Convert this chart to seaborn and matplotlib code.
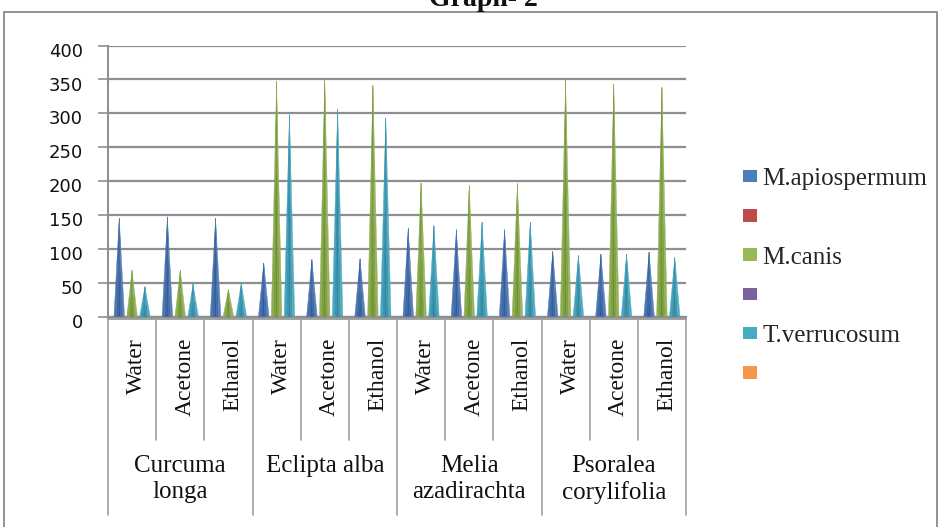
import numpy as np
import pandas as pd
import matplotlib
matplotlib.use("Agg")
import matplotlib.pyplot as plt
import matplotlib.transforms as mtransforms
from matplotlib.patches import Polygon, Rectangle
from matplotlib.lines import Line2D
from matplotlib.colors import to_rgb
import seaborn as sns

# ---- data -------------------------------------------------------------
plants = ["Curcuma\nlonga", "Eclipta alba", "Melia\nazadirachta", "Psoralea\ncorylifolia"]
solvents = ["Water", "Acetone", "Ethanol"]

m_apiospermum = [145, 147, 145, 79, 84, 85, 130, 128, 128, 96, 92, 95]
m_canis = [68, 68, 40, 347, 351, 341, 197, 193, 196, 349, 343, 338]
t_verrucosum = [44, 48, 49, 298, 306, 293, 134, 139, 139, 90, 92, 87]

series_names = ["M.apiospermum", "M.canis", "T.verrucosum"]
series_colors = ["#3F6EB0", "#86AA44", "#3AA0BC"]

legend_labels = ["M.apiospermum", " ", "M.canis", " ", "T.verrucosum", " "]
legend_colors = ["#4A7EBB", "#BE4B48", "#98B954", "#7D60A0", "#46AAC5", "#F79646"]

y_ticks = [0, 50, 100, 150, 200, 250, 300, 350, 400]

# ---- table ------------------------------------------------------------
slots = [f"{p}|{s}" for p in plants for s in solvents]
rows = []
for name, vals in zip(series_names, [m_apiospermum, m_canis, t_verrucosum]):
    for slot, v in zip(slots, vals):
        rows.append({"slot": slot, "series": name, "value": v})
df = pd.DataFrame(rows)

# ---- figure -----------------------------------------------------------
W, H = 940, 527
sns.set_theme(style="white")
plt.rcParams["font.family"] = ["DejaVu Sans"]
fig = plt.figure(figsize=(W / 100, H / 100), dpi=100)


def fy(px):
    return 1 - px / H


def fx(px):
    return px / W


ax = fig.add_axes([fx(108), fy(316.5), fx(686) - fx(108), fy(45.5) - fy(316.5)])

sns.barplot(data=df, x="slot", y="value", hue="series", order=slots,
            hue_order=series_names, palette=series_colors, width=0.8,
            legend=False, ax=ax, saturation=1)

ax.set_xlim(-0.5, len(slots) - 0.5)
ax.set_ylim(0, 400)

# turn each bar into a shaded cone
bars = list(ax.patches)
for bar in bars:
    x0, w, h = bar.get_x(), bar.get_width(), bar.get_height()
    base = np.array(to_rgb(bar.get_facecolor()))
    bar.remove()
    if not np.isfinite(h) or h <= 0:
        continue
    cx = x0 + w / 2
    bw = w * 0.82
    edges = np.linspace(cx - bw / 2, cx + bw / 2, 6)
    shades = [1.06, 0.95, 0.84, 0.95, 1.12]
    for (a, b), s in zip(zip(edges[:-1], edges[1:]), shades):
        col = np.clip(base * s if s <= 1 else base + (1 - base) * (s - 1), 0, 1)
        ax.add_patch(Polygon([(a, 0), (b, 0), (cx, h)], closed=True,
                             facecolor=col, edgecolor=col, linewidth=0.3,
                             zorder=3))

# grid / axes styling
grid_col = "#8E8E8E"
ax.set_yticks(y_ticks)
ax.yaxis.grid(True, color=grid_col, linewidth=1.6, zorder=0)
ax.set_axisbelow(True)
for side in ["top", "right"]:
    ax.spines[side].set_visible(False)
ax.spines["left"].set_color(grid_col)
ax.spines["left"].set_linewidth(1.4)
ax.spines["bottom"].set_color(grid_col)
ax.spines["bottom"].set_linewidth(1.6)
ax.tick_params(axis="y", direction="out", length=7, width=1.2, color=grid_col,
               pad=11, labelsize=13, labelcolor="#111111", left=True)
shift = mtransforms.ScaledTranslation(0, -3 / 72, fig.dpi_scale_trans)
for lab in ax.get_yticklabels():
    lab.set_transform(lab.get_transform() + shift)
ax.set_xticks([])
ax.set_xlabel("")
ax.set_ylabel("")

# category axis: solvent labels and separators
bt = mtransforms.blended_transform_factory(ax.transData, fig.transFigure)
sep_col = "#A0A0A0"
for k in range(len(slots) + 1):
    bottom = 515 if k % 3 == 0 else 440
    ax.add_line(Line2D([k - 0.5, k - 0.5], [fy(318), fy(bottom)], transform=bt,
                       color=sep_col, linewidth=1.2, clip_on=False))
ax.add_line(Line2D([-0.5, len(slots) - 0.5], [fy(319), fy(319)], transform=bt,
                   color=sep_col, linewidth=1.4, clip_on=False))

serif = ["Liberation Serif", "DejaVu Serif"]
for i, slot in enumerate(slots):
    solvent = slot.split("|")[1]
    ax.text(i + 0.1, fy(338), solvent, transform=bt, rotation=90,
            rotation_mode="anchor", ha="right", va="center",
            fontsize=17, family=serif, color="#111111")

for g, plant in enumerate(plants):
    ax.text(3 * g + 1, fy(455), plant, transform=bt, ha="center", va="top",
            multialignment="center", fontsize=18, family=serif,
            color="#111111", linespacing=1.25)

# legend
handles = [Rectangle((0, 0), 1, 1, facecolor=c, edgecolor="none") for c in legend_colors]
fig.legend(handles, legend_labels, loc="upper left",
           bbox_to_anchor=(fx(743), fy(168)), frameon=False,
           prop={"family": serif, "size": 18}, handlelength=0.56,
           handleheight=0.4, handletextpad=0.22, labelspacing=0.69,
           borderaxespad=0, borderpad=0)

# chart frame and title
fig.patches.append(Rectangle((fx(4), -0.02), fx(937) - fx(4), fy(12.5) + 0.02,
                             transform=fig.transFigure, fill=False,
                             edgecolor="#8A8A8A", linewidth=1.3))
fig.text(fx(483), fy(6), "Graph- 2", ha="center", va="baseline",
         fontsize=20, fontweight="bold", family=serif, color="#111111")

fig.savefig("out.png", dpi=100, facecolor="white")
